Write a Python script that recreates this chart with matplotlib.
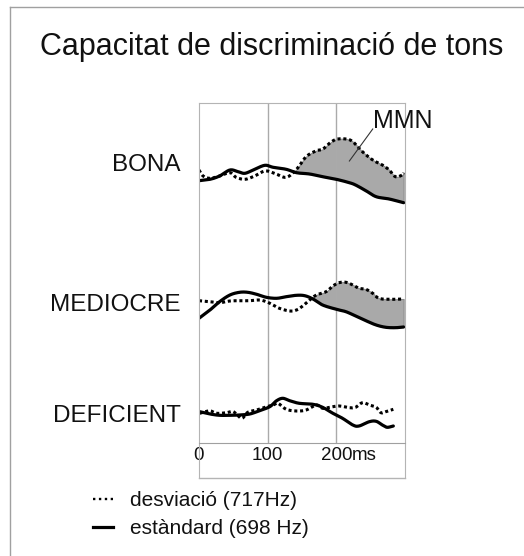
import numpy as np
import matplotlib
matplotlib.use("Agg")
import matplotlib.pyplot as plt
from matplotlib.lines import Line2D
from matplotlib import transforms

plt.rcParams['font.family'] = ['Liberation Sans', 'DejaVu Sans']

# --- data (ms, amplitud relativa a la línia base de cada fila) ---
rows = ['BONA', 'MEDIOCRE', 'DEFICIENT']

t_bona_std = [0, 16, 30, 45, 57, 67, 81, 96, 108, 127, 142, 161, 180, 200, 219, 228, 243, 258, 277, 298]
bona_std = [-0.7, 0.7, 4, 10, 8.3, 6.7, 10.7, 14.7, 12.7, 10.7, 7.3, 6, 3.3, 0.7, -2.7, -5, -10.7, -16.7, -19, -22.7]
t_bona_dev = [0, 6, 16, 30, 45, 54, 67, 81, 96, 110, 127, 142, 156, 171, 180, 190, 200, 214, 224, 238, 253, 267, 277, 286, 296, 298]
bona_dev = [10, 4, 1.7, 4, 7.3, 2.7, 0.7, 4, 9, 6.7, 2.7, 10.7, 23.3, 29.3, 30.7, 36.7, 40.7, 41, 38.3, 28.3, 20, 15, 10, 3.3, 5, 7.3]

t_med_std = [0, 16, 30, 45, 59, 71, 84, 98, 113, 127, 142, 154, 166, 180, 200, 214, 228, 243, 258, 272, 286, 298]
med_std = [-18.3, -10, -1.7, 5, 7.7, 7.7, 5.7, 2.7, 1.7, 3.3, 4.7, 4.3, 1, -5, -9.3, -11.7, -16, -20.7, -25, -27.3, -27.7, -27]
t_med_dev = [0, 16, 30, 45, 59, 74, 88, 98, 108, 117, 132, 142, 151, 161, 171, 185, 195, 204, 214, 224, 233, 243, 253, 262, 277, 298]
med_dev = [-0.7, -1.7, -2.7, -1, -0.7, -0.7, 0, -1.7, -5, -8.3, -11, -10, -6, 0, 5, 8.3, 14, 17.3, 17.7, 15, 11.7, 10.7, 6.7, 1.7, 0.7, 1]

t_def_std = [1, 16, 30, 45, 59, 74, 88, 103, 113, 122, 132, 146, 166, 180, 195, 209, 224, 233, 248, 258, 267, 274, 283]
def_std = [0.3, -2, -3.3, -3.3, -3, -2, 1.3, 5.3, 11.3, 13.7, 11.3, 8.7, 7.7, 4.7, -1.3, -6.3, -13, -14, -9.7, -9.3, -13, -15.3, -14]
t_def_dev = [1, 9, 16, 26, 40, 50, 62, 71, 84, 96, 108, 115, 127, 142, 156, 171, 180, 190, 204, 219, 228, 238, 248, 258, 265, 272, 283]
def_dev = [-1.3, 0.3, 1.3, -1.3, -0.7, 0.3, -6.3, -0.3, 2, 4.7, 7, 8.7, 2.7, 1, 2, 7, 3.7, 4.7, 6, 4.3, 4.7, 9.3, 7, 4.7, -0.7, 0.3, 2.7]

xticks = [0, 100, 200]
legend_labels = ['desviació (717Hz)', 'estàndard (698 Hz)']
title = 'Capacitat de discriminació de tons'


def smooth(t, y, n=12):
    # catmull-rom per dibuixar la corba suau
    t = np.asarray(t, float)
    y = np.asarray(y, float)
    tp = np.concatenate([[2 * t[0] - t[1]], t, [2 * t[-1] - t[-2]]])
    yp = np.concatenate([[2 * y[0] - y[1]], y, [2 * y[-1] - y[-2]]])
    xs, ys = [], []
    s = np.linspace(0, 1, n, endpoint=False)
    for i in range(1, len(tp) - 2):
        for arr, out in ((tp, xs), (yp, ys)):
            p0, p1, p2, p3 = arr[i - 1], arr[i], arr[i + 1], arr[i + 2]
            out.append(0.5 * (2 * p1 + (-p0 + p2) * s + (2 * p0 - 5 * p1 + 4 * p2 - p3) * s ** 2
                              + (-p0 + 3 * p1 - 3 * p2 + p3) * s ** 3))
    xs.append([t[-1]])
    ys.append([y[-1]])
    return np.concatenate(xs), np.concatenate(ys)


W, H = 524, 556
fig = plt.figure(figsize=(W / 100, H / 100), dpi=100)
ax = fig.add_axes([199 / W, 1 - 478 / H, 206 / W, 375 / H])
ax.set_xlim(0, 300)
ax.set_ylim(-35, 340)

grey = '#b4b4b4'
for s in ['left', 'right', 'top']:
    ax.spines[s].set_color(grey)
ax.spines['bottom'].set_position(('data', 0))
ax.spines['bottom'].set_color('#a0a0a0')
ax.plot([0, 1], [0, 0], transform=ax.transAxes, color=grey, lw=1, clip_on=False)
ax.set_yticks([])
ax.set_xticks(xticks)
ax.set_xticklabels([str(v) for v in xticks])
ax.tick_params(axis='x', length=0, pad=3, labelsize=13.5, colors='#111111')
ax.text(223, -13, 'ms', fontsize=13.5, color='#111111', ha='left', va='center')
ax.vlines([100, 200], 0, 340, color='#aaaaaa', lw=1)

baselines = [263, 143, 31]
curves = [
    (t_bona_std, bona_std, t_bona_dev, bona_dev, 130),
    (t_med_std, med_std, t_med_dev, med_dev, 150),
    (t_def_std, def_std, t_def_dev, def_dev, None),
]
for (ts, ys, td, yd, fill_from), base in zip(curves, baselines):
    xs_s, ys_s = smooth(ts, ys)
    xs_d, ys_d = smooth(td, yd)
    if fill_from is not None:
        grid = np.linspace(fill_from, min(ts[-1], td[-1]), 400)
        a = np.interp(grid, xs_s, ys_s) + base
        b = np.interp(grid, xs_d, ys_d) + base
        ax.fill_between(grid, a, b, where=b >= a, interpolate=True,
                        color='#a9a9a9', lw=0.8, edgecolor='#8a8a8a')
    ax.plot(xs_s, ys_s + base, color='black', lw=2.3, solid_capstyle='round')
    ax.plot(xs_d, ys_d + base, color='black', lw=2.2, linestyle=(0, (1, 0.9)),
            dash_capstyle='butt')

# MMN
ax.plot([219, 253], [282, 314], color='#333333', lw=0.8)
ax.text(253, 315, 'MMN', fontsize=18, color='#111111', ha='left', va='baseline')

# noms de les files
blend = transforms.blended_transform_factory(ax.transAxes, ax.transData)
for name, yb in zip(rows, [272, 132, 21]):
    ax.text(-18 / 206, yb, name, transform=blend, fontsize=17.5, color='#111111',
            ha='right', va='baseline')

fig.text(272 / W, 1 - 55 / H, title, fontsize=22, color='#111111', ha='center', va='baseline')

# llegenda
fig.add_artist(Line2D([93 / W, 113 / W], [1 - 499 / H] * 2, color='black', lw=1.7,
                      linestyle=(0, (1, 1.5)), dash_capstyle='butt'))
fig.add_artist(Line2D([93 / W, 113 / W], [1 - 527 / H] * 2, color='black', lw=2.3))
fig.text(130 / W, 1 - 506.5 / H, legend_labels[0], fontsize=15, color='#111111', va='baseline')
fig.text(130 / W, 1 - 534 / H, legend_labels[1], fontsize=15, color='#111111', va='baseline')

# marc exterior
fig.add_artist(Line2D([10 / W, 10 / W], [0, 1 - 7 / H], color='#a0a0a0', lw=1))
fig.add_artist(Line2D([10 / W, 1], [1 - 7 / H] * 2, color='#a0a0a0', lw=1))

fig.savefig('out.png', dpi=100)
